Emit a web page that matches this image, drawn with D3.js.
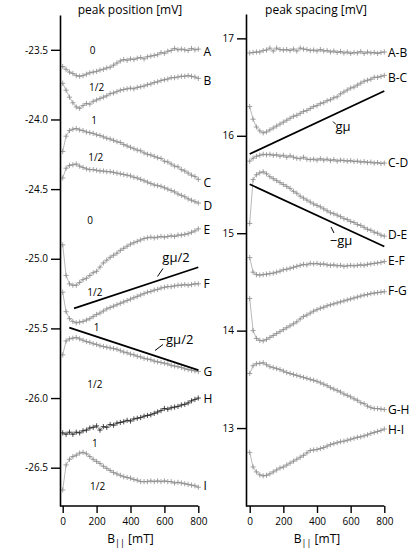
<!DOCTYPE html>
<html>
<head>
<meta charset="utf-8">
<script src="https://cdn.jsdelivr.net/npm/d3@7"></script>
<style>
  body { margin: 0; background: #fff; }
  text { font-family: "Open Sans", "DejaVu Sans", sans-serif; fill: #000; }
</style>
</head>
<body>
<div id="chart-area"></div>
<script>
// magnetic field values (mT), shared by all traces
var bField = [0, 20, 40, 60, 80, 100, 120, 140, 160, 180, 200, 220, 240, 260, 280, 300, 320, 340, 360, 380,
  400, 420, 440, 460, 480, 500, 520, 540, 560, 580, 600, 620, 640, 660, 680, 700, 720, 740, 760, 780, 800];

// peak positions [mV]
var peakA = [-23.62, -23.64, -23.66, -23.67, -23.685, -23.69, -23.685, -23.675, -23.665, -23.66, -23.655, -23.645, -23.64, -23.63, -23.625, -23.61, -23.595, -23.58, -23.57, -23.575,
  -23.565, -23.57, -23.56, -23.555, -23.565, -23.55, -23.545, -23.54, -23.535, -23.52, -23.525, -23.51, -23.505, -23.49, -23.5, -23.495, -23.5, -23.505, -23.49, -23.5, -23.495];
var peakB = [-23.74, -23.79, -23.84, -23.88, -23.91, -23.92, -23.9, -23.885, -23.89, -23.87, -23.86, -23.85, -23.84, -23.83, -23.815, -23.81, -23.8, -23.79, -23.785, -23.78,
  -23.775, -23.78, -23.77, -23.765, -23.76, -23.75, -23.745, -23.735, -23.73, -23.72, -23.715, -23.71, -23.7, -23.7, -23.695, -23.69, -23.69, -23.685, -23.69, -23.695, -23.705];
var peakC = [-24.23, -24.12, -24.08, -24.07, -24.065, -24.075, -24.08, -24.09, -24.095, -24.1, -24.11, -24.115, -24.125, -24.135, -24.14, -24.15, -24.16, -24.165, -24.18, -24.19,
  -24.2, -24.21, -24.22, -24.225, -24.24, -24.25, -24.255, -24.265, -24.275, -24.28, -24.3, -24.305, -24.32, -24.335, -24.34, -24.36, -24.37, -24.385, -24.4, -24.41, -24.43];
var peakD = [-24.42, -24.35, -24.33, -24.325, -24.32, -24.335, -24.345, -24.355, -24.36, -24.36, -24.365, -24.37, -24.37, -24.375, -24.375, -24.38, -24.385, -24.39, -24.395, -24.4,
  -24.405, -24.415, -24.42, -24.43, -24.44, -24.45, -24.46, -24.47, -24.475, -24.48, -24.49, -24.5, -24.51, -24.52, -24.535, -24.545, -24.555, -24.57, -24.58, -24.59, -24.6];
var peakE = [-24.9, -25.12, -25.18, -25.19, -25.19, -25.17, -25.15, -25.14, -25.12, -25.1, -25.09, -25.06, -25.03, -25.01, -24.99, -24.975, -24.96, -24.94, -24.925, -24.91,
  -24.895, -24.885, -24.875, -24.865, -24.855, -24.85, -24.845, -24.85, -24.845, -24.84, -24.845, -24.84, -24.835, -24.84, -24.83, -24.83, -24.825, -24.82, -24.81, -24.8, -24.785];
var peakF = [-25.24, -25.38, -25.43, -25.45, -25.46, -25.455, -25.45, -25.44, -25.43, -25.415, -25.4, -25.39, -25.375, -25.36, -25.35, -25.34, -25.33, -25.32, -25.31, -25.3,
  -25.29, -25.28, -25.27, -25.26, -25.25, -25.24, -25.235, -25.225, -25.22, -25.21, -25.205, -25.2, -25.2, -25.195, -25.19, -25.19, -25.185, -25.19, -25.185, -25.18, -25.18];
var peakG = [-25.69, -25.59, -25.575, -25.57, -25.565, -25.575, -25.585, -25.595, -25.6, -25.61, -25.615, -25.625, -25.63, -25.635, -25.64, -25.645, -25.65, -25.66, -25.67, -25.675,
  -25.685, -25.69, -25.7, -25.705, -25.715, -25.72, -25.725, -25.735, -25.74, -25.745, -25.75, -25.755, -25.765, -25.77, -25.775, -25.78, -25.79, -25.795, -25.8, -25.805, -25.81];
var peakH = [-26.25, -26.26, -26.245, -26.26, -26.245, -26.25, -26.235, -26.23, -26.215, -26.21, -26.2, -26.23, -26.205, -26.21, -26.19, -26.195, -26.18, -26.175, -26.17, -26.16,
  -26.165, -26.15, -26.145, -26.14, -26.13, -26.125, -26.12, -26.11, -26.1, -26.09, -26.075, -26.08, -26.07, -26.065, -26.06, -26.05, -26.045, -26.035, -26.02, -26.01, -26.0];
var peakI = [-26.66, -26.48, -26.44, -26.42, -26.41, -26.395, -26.39, -26.4, -26.42, -26.44, -26.455, -26.47, -26.49, -26.505, -26.52, -26.535, -26.545, -26.555, -26.565, -26.57,
  -26.575, -26.585, -26.59, -26.6, -26.6, -26.6, -26.595, -26.6, -26.595, -26.6, -26.595, -26.6, -26.6, -26.61, -26.605, -26.61, -26.615, -26.62, -26.625, -26.63, -26.64];

// peak spacings [mV]
var spAB = [16.85, 16.855, 16.86, 16.86, 16.875, 16.88, 16.9, 16.87, 16.9, 16.885, 16.88, 16.885, 16.875, 16.89, 16.87, 16.9, 16.89, 16.885, 16.875, 16.88,
  16.87, 16.885, 16.87, 16.875, 16.86, 16.87, 16.855, 16.865, 16.85, 16.86, 16.845, 16.855, 16.85, 16.865, 16.845, 16.86, 16.85, 16.855, 16.845, 16.855, 16.86];
var spBC = [16.3, 16.17, 16.09, 16.05, 16.03, 16.04, 16.06, 16.08, 16.1, 16.12, 16.14, 16.16, 16.18, 16.2, 16.21, 16.23, 16.25, 16.26, 16.28, 16.3,
  16.31, 16.33, 16.34, 16.36, 16.37, 16.39, 16.4, 16.43, 16.45, 16.47, 16.49, 16.5, 16.52, 16.54, 16.56, 16.57, 16.58, 16.6, 16.6, 16.61, 16.62];
var spCD = [15.74, 15.77, 15.79, 15.8, 15.81, 15.805, 15.81, 15.8, 15.805, 15.79, 15.8, 15.78, 15.795, 15.78, 15.77, 15.765, 15.78, 15.76, 15.755, 15.76,
  15.75, 15.765, 15.75, 15.76, 15.745, 15.755, 15.74, 15.75, 15.745, 15.74, 15.745, 15.735, 15.74, 15.73, 15.735, 15.725, 15.73, 15.72, 15.725, 15.715, 15.72];
var spDE = [15.1, 15.55, 15.6, 15.62, 15.63, 15.61, 15.58, 15.56, 15.54, 15.52, 15.5, 15.48, 15.46, 15.43, 15.41, 15.38, 15.36, 15.34, 15.32, 15.3,
  15.285, 15.27, 15.25, 15.23, 15.21, 15.2, 15.185, 15.17, 15.15, 15.14, 15.12, 15.11, 15.09, 15.08, 15.06, 15.04, 15.03, 15.01, 15.0, 14.98, 14.97];
var spEF = [14.75, 14.6, 14.575, 14.57, 14.575, 14.58, 14.585, 14.59, 14.6, 14.61, 14.625, 14.63, 14.64, 14.65, 14.66, 14.67, 14.68, 14.675, 14.69, 14.685,
  14.69, 14.68, 14.685, 14.675, 14.67, 14.675, 14.665, 14.67, 14.66, 14.665, 14.67, 14.665, 14.67, 14.675, 14.67, 14.68, 14.685, 14.69, 14.695, 14.7, 14.71];
var spFG = [14.33, 14.0, 13.92, 13.9, 13.895, 13.91, 13.93, 13.95, 13.97, 13.99, 14.01, 14.03, 14.05, 14.07, 14.09, 14.12, 14.145, 14.16, 14.18, 14.2,
  14.215, 14.23, 14.24, 14.255, 14.265, 14.275, 14.285, 14.295, 14.305, 14.315, 14.325, 14.335, 14.345, 14.355, 14.365, 14.37, 14.38, 14.385, 14.39, 14.395, 14.4];
var spGH = [13.56, 13.64, 13.66, 13.665, 13.67, 13.65, 13.63, 13.62, 13.61, 13.6, 13.585, 13.57, 13.56, 13.55, 13.54, 13.53, 13.52, 13.51, 13.5, 13.49,
  13.48, 13.465, 13.45, 13.435, 13.415, 13.4, 13.385, 13.37, 13.35, 13.335, 13.32, 13.3, 13.285, 13.26, 13.25, 13.225, 13.21, 13.2, 13.2, 13.195, 13.19];
var spHI = [12.75, 12.6, 12.55, 12.52, 12.51, 12.515, 12.53, 12.55, 12.57, 12.59, 12.6, 12.62, 12.64, 12.66, 12.68, 12.7, 12.72, 12.745, 12.77, 12.775,
  12.78, 12.79, 12.8, 12.815, 12.83, 12.84, 12.85, 12.86, 12.865, 12.875, 12.885, 12.895, 12.905, 12.91, 12.92, 12.93, 12.945, 12.955, 12.965, 12.975, 12.99];

// labels
var posNames = ["A", "B", "C", "D", "E", "F", "G", "H", "I"];
var posLabelY = [-23.51, -23.72, -24.45, -24.62, -24.79, -25.18, -25.81, -26.0, -26.625];
var spNames = ["A-B", "B-C", "C-D", "D-E", "E-F", "F-G", "G-H", "H-I"];
var spLabelY = [16.855, 16.6, 15.73, 14.99, 14.72, 14.41, 13.19, 12.99];
// spin values written between traces (left panel)
var spinText = ["0", "1/2", "1", "1/2", "0", "1/2", "1", "1/2", "1", "1/2"];
var spinB = [177, 200, 185, 195, 161, 190, 200, 190, 190, 206];
var spinY = [-23.5, -23.768, -24.003, -24.267, -24.721, -25.241, -25.492, -25.902, -26.326, -26.63];
// Zeeman guide lines [B start, B end, value start, value end]
var lineHalfUp = [67, 800, -25.356, -25.061];
var lineHalfDown = [39, 800, -25.495, -25.799];
var lineUp = [0, 800, 15.813, 16.46];
var lineDown = [0, 800, 15.503, 14.863];

var width = 415, height = 550;
var svg = d3.select("#chart-area").append("svg")
  .attr("width", width).attr("height", height);

var xL = d3.scaleLinear().domain([0, 800]).range([62.7, 198.3]);
var yL = d3.scaleLinear().domain([-23.25, -26.775]).range([15, 506]);
var xR = d3.scaleLinear().domain([0, 800]).range([249.7, 384.3]);
var yR = d3.scaleLinear().domain([17.25, 12.2]).range([14, 506]);

var plus = "M-2.6,0H2.6M0,-2.6V2.6";

function drawTrace(x, y, vals, dark) {
  var pts = bField.map(function(b, i) { return [b, vals[i]]; });
  var line = d3.line().x(function(d) { return x(d[0]); }).y(function(d) { return y(d[1]); });
  svg.append("path")
    .attr("d", line(pts))
    .attr("fill", "none")
    .attr("stroke", dark ? "#555" : "#9a9a9a")
    .attr("stroke-width", 0.7);
  svg.append("g").selectAll("path")
    .data(pts)
    .enter().append("path")
    .attr("d", plus)
    .attr("transform", function(d) { return "translate(" + x(d[0]) + "," + y(d[1]) + ")"; })
    .attr("stroke", dark ? "#222" : "#8a8a8a")
    .attr("stroke-width", 0.8)
    .attr("fill", "none");
}

function drawAxes(x, y, x0, yTicks, fmt) {
  var ya = svg.append("g")
    .attr("transform", "translate(" + x0 + ",0)")
    .call(d3.axisLeft(y).tickValues(yTicks).tickFormat(fmt).tickSize(9).tickSizeOuter(0).tickPadding(3));
  ya.select(".domain").attr("stroke-width", 1.6);
  ya.selectAll(".tick line").attr("stroke-width", 1.4);
  ya.selectAll("text").style("font-size", "10px");

  var xa = svg.append("g")
    .attr("transform", "translate(0,506)")
    .call(d3.axisBottom(x).tickValues([0, 200, 400, 600, 800]).tickSize(7).tickSizeOuter(0).tickPadding(5));
  xa.select(".domain").remove();
  xa.selectAll(".tick line").attr("stroke-width", 1.4);
  xa.selectAll("text").style("font-size", "10px");
  svg.append("line")
    .attr("x1", x0).attr("x2", x(800))
    .attr("y1", 506).attr("y2", 506)
    .attr("stroke", "#000").attr("stroke-width", 1.6);

  var t = svg.append("text")
    .attr("x", (x(0) + x(800)) / 2).attr("y", 543)
    .attr("text-anchor", "middle")
    .style("font-size", "12px");
  t.append("tspan").text("B");
  t.append("tspan").attr("dy", 3).style("font-size", "9px").text("||");
  t.append("tspan").attr("dy", -3).text(" [mT]");
}

function guide(x, y, seg) {
  svg.append("line")
    .attr("x1", x(seg[0])).attr("y1", y(seg[2]))
    .attr("x2", x(seg[1])).attr("y2", y(seg[3]))
    .attr("stroke", "#000").attr("stroke-width", 1.8);
}

// plain hyphen for negative tick labels, as in the original
var fmtPos = function(d) { return d3.format(".1f")(d).replace("\u2212", "-"); };

// left panel
var leftSeries = [peakA, peakB, peakC, peakD, peakE, peakF, peakG, peakH, peakI];
leftSeries.forEach(function(s, i) { drawTrace(xL, yL, s, i === 7); });
drawAxes(xL, yL, 60, [-23.5, -24.0, -24.5, -25.0, -25.5, -26.0, -26.5], fmtPos);
guide(xL, yL, lineHalfUp);
guide(xL, yL, lineHalfDown);

posNames.forEach(function(n, i) {
  svg.append("text")
    .attr("x", 203.5).attr("y", yL(posLabelY[i]) + 4.5)
    .style("font-size", "12px")
    .text(n);
});
spinText.forEach(function(s, i) {
  svg.append("text")
    .attr("x", xL(spinB[i])).attr("y", yL(spinY[i]) + 4)
    .attr("text-anchor", "middle")
    .style("font-size", "10px")
    .text(s);
});

// right panel
var rightSeries = [spAB, spBC, spCD, spDE, spEF, spFG, spGH, spHI];
rightSeries.forEach(function(s) { drawTrace(xR, yR, s, false); });
drawAxes(xR, yR, 246, [13, 14, 15, 16, 17], d3.format("d"));
guide(xR, yR, lineUp);
guide(xR, yR, lineDown);

spNames.forEach(function(n, i) {
  svg.append("text")
    .attr("x", 388).attr("y", yR(spLabelY[i]) + 4.5)
    .style("font-size", "12px")
    .text(n);
});

// titles
svg.append("text").attr("x", 130).attr("y", 14).attr("text-anchor", "middle")
  .style("font-size", "12px").text("peak position [mV]");
svg.append("text").attr("x", 316).attr("y", 14).attr("text-anchor", "middle")
  .style("font-size", "12px").text("peak spacing [mV]");

// guide line annotations
function note(tx, ty, label, lx1, ly1, lx2, ly2) {
  svg.append("line").attr("x1", lx1).attr("y1", ly1).attr("x2", lx2).attr("y2", ly2)
    .attr("stroke", "#000").attr("stroke-width", 1);
  svg.append("text").attr("x", tx).attr("y", ty)
    .attr("text-anchor", "middle").style("font-size", "13px").text(label);
}
note(176, 262, "g\u03bc/2", 157.5, 276.5, 163, 268.5);
note(176, 344, "\u2212g\u03bc/2", 155, 350.5, 163, 344.5);
note(343, 131, "g\u03bc", 333, 121.5, 336, 124.5);
note(341, 245, "\u2212g\u03bc", 331, 227, 334, 233);
</script>
</body>
</html>
